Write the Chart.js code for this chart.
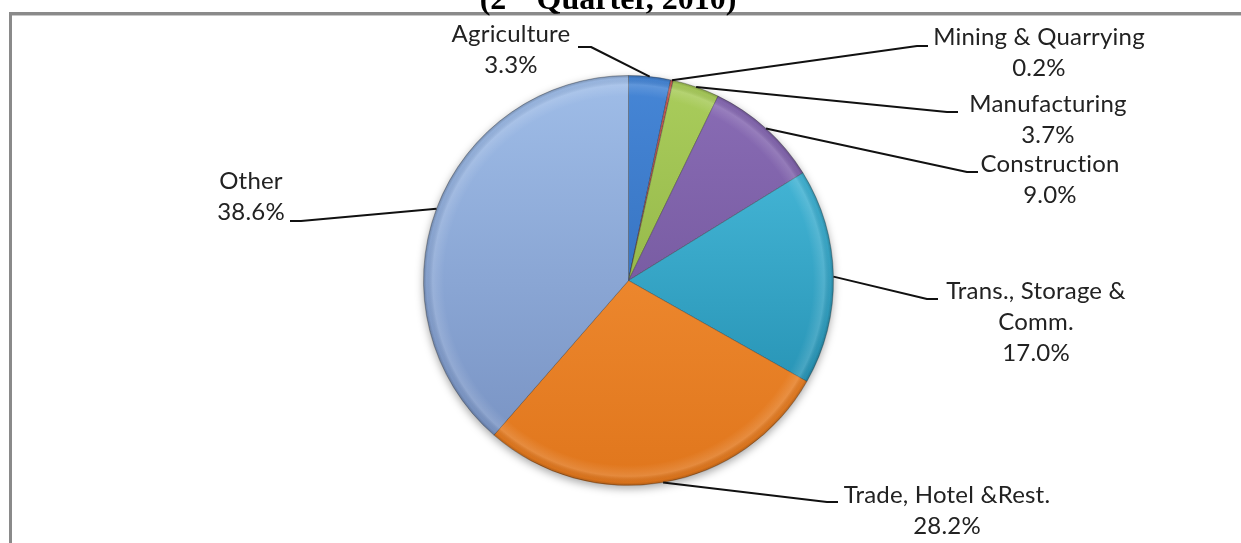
<!DOCTYPE html>
<html>
<head>
<meta charset="utf-8">
<title>GDP by sector, 2nd Quarter 2010</title>
<script src="https://cdn.jsdelivr.net/npm/chart.js@4.4.1/dist/chart.umd.min.js"></script>
<style>
  html, body { margin: 0; padding: 0; background: #fff; }
  #wrap { position: relative; width: 1241px; height: 543px; overflow: hidden; }
  canvas { display: block; }
</style>
</head>
<body>
<div id="wrap">
  <canvas id="sectorChart" width="1241" height="543"></canvas>
</div>
<script>
// sector shares, clockwise from 12 o'clock
const sectors = [
  "Agriculture",
  "Mining & Quarrying",
  "Manufacturing",
  "Construction",
  ["Trans., Storage &", "Comm."],
  "Trade, Hotel &Rest.",
  "Other"
];
const shares = [3.3, 0.2, 3.7, 9.0, 17.0, 28.2, 38.6];

// top / bottom shade of each slice
const topShades = ["#4686d6", "#c85a55", "#aacd5c", "#8a6db6", "#4fc2e2", "#f8973e", "#9fbde8"];
const bottomShades = ["#2a64b0", "#a8403c", "#84a63a", "#684c90", "#1c86a8", "#e0761c", "#758fc0"];

// where each data label sits: text centre x, first baseline y, leader elbow + end
const labelSpots = [
  { cx: 511,  y: 42,  elbow: [591, 47],  end: [578, 47] },
  { cx: 1039, y: 45,  elbow: [917, 46],  end: [928, 46] },
  { cx: 1048, y: 112, elbow: [947, 112], end: [958, 112] },
  { cx: 1050, y: 172, elbow: [967, 172], end: [978, 172] },
  { cx: 1036, y: 299, elbow: [927, 299], end: [938, 299] },
  { cx: 947,  y: 503, elbow: [827, 502], end: [838, 502] },
  { cx: 251,  y: 220, elbow: [301, 221], end: [290, 221], lift: true }
];

const LINE_H = 31;
const LABEL_FONT = "24px Lato";

const gradCache = {};
function sliceFill(context) {
  const chart = context.chart;
  const area = chart.chartArea;
  const i = context.dataIndex;
  if (!area) return topShades[i];
  const key = i + ":" + area.top + ":" + area.bottom;
  if (!gradCache[key]) {
    const g = chart.ctx.createLinearGradient(0, area.top, 0, area.bottom);
    g.addColorStop(0, topShades[i]);
    g.addColorStop(1, bottomShades[i]);
    gradCache[key] = g;
  }
  return gradCache[key];
}

// frame and (clipped) heading
const framePlugin = {
  id: "framePlugin",
  beforeDraw(chart) {
    const ctx = chart.ctx;
    ctx.save();
    ctx.fillStyle = "#fff";
    ctx.fillRect(0, 0, chart.width, chart.height);

    ctx.fillStyle = "#8a8a8a";
    ctx.fillRect(9, 12, chart.width - 9, 3);
    ctx.fillRect(9, 12, 3, chart.height - 12);
    ctx.fillStyle = "#c8c8c8";
    ctx.fillRect(12, 15, chart.width - 12, 1);

    ctx.fillStyle = "#000";
    ctx.textBaseline = "alphabetic";
    const big = "bold 32px 'Liberation Serif'";
    const small = "bold 20px 'Liberation Serif'";
    ctx.font = big;
    const a = "(2", b = " Quarter, 2010)";
    const wa = ctx.measureText(a).width, wb = ctx.measureText(b).width;
    ctx.font = small;
    const wn = ctx.measureText("nd").width;
    let x = 608 - (wa + wn + wb) / 2;
    ctx.font = big;
    ctx.fillText(a, x, 9);
    x += wa;
    ctx.font = small;
    ctx.fillText("nd", x, -4);
    x += wn;
    ctx.font = big;
    ctx.fillText(b, x, 9);
    ctx.restore();
  }
};

// soft shadow under the pie and a rim shading over it
const pieShade = {
  id: "pieShade",
  beforeDatasetsDraw(chart) {
    const arc = chart.getDatasetMeta(0).data[0];
    if (!arc) return;
    const ctx = chart.ctx;
    ctx.save();
    ctx.shadowColor = "rgba(0,0,0,0.35)";
    ctx.shadowBlur = 8;
    ctx.shadowOffsetY = 3;
    ctx.fillStyle = "#fff";
    ctx.beginPath();
    ctx.arc(arc.x, arc.y, arc.outerRadius, 0, Math.PI * 2);
    ctx.fill();
    ctx.restore();
  },
  afterDatasetsDraw(chart) {
    const arc = chart.getDatasetMeta(0).data[0];
    if (!arc) return;
    const ctx = chart.ctx;
    const r = arc.outerRadius;
    ctx.save();
    const g = ctx.createRadialGradient(arc.x, arc.y, r * 0.9, arc.x, arc.y, r);
    g.addColorStop(0, "rgba(255,255,255,0)");
    g.addColorStop(0.55, "rgba(255,255,255,0.14)");
    g.addColorStop(0.85, "rgba(0,0,0,0.04)");
    g.addColorStop(1, "rgba(0,0,0,0.22)");
    ctx.fillStyle = g;
    ctx.beginPath();
    ctx.arc(arc.x, arc.y, r, 0, Math.PI * 2);
    ctx.fill();
    ctx.restore();
  }
};

// category + percentage labels with leader lines
const leaderLabels = {
  id: "leaderLabels",
  afterDraw(chart) {
    const ctx = chart.ctx;
    const meta = chart.getDatasetMeta(0);
    const values = chart.data.datasets[0].data;
    ctx.save();
    ctx.strokeStyle = "#111";
    ctx.lineWidth = 2;
    ctx.lineJoin = "round";
    ctx.font = LABEL_FONT;
    ctx.letterSpacing = "0.2px"; // also stops the "ti" ligature
    ctx.fillStyle = "#222";
    ctx.textAlign = "center";
    ctx.textBaseline = "alphabetic";

    meta.data.forEach((arc, i) => {
      const spot = labelSpots[i];
      const mid = (arc.startAngle + arc.endAngle) / 2;
      const ax = arc.x + Math.cos(mid) * arc.outerRadius;
      const ay = arc.y + Math.sin(mid) * arc.outerRadius;

      ctx.beginPath();
      ctx.moveTo(ax, ay);
      ctx.lineTo(spot.elbow[0], spot.elbow[1]);
      ctx.lineTo(spot.end[0], spot.end[1]);
      ctx.stroke();

      const name = chart.data.labels[i];
      const lines = (Array.isArray(name) ? name.slice() : [name]);
      lines.push(values[i].toFixed(1) + "%");
      const first = spot.lift ? spot.y - LINE_H * (lines.length - 1) : spot.y;
      lines.forEach((t, k) => ctx.fillText(t, spot.cx, first + k * LINE_H));
    });
    ctx.restore();
  }
};

new Chart(document.getElementById("sectorChart"), {
  type: "pie",
  data: {
    labels: sectors,
    datasets: [{
      data: shares,
      backgroundColor: sliceFill,
      borderColor: "rgba(40,40,40,0.35)",
      borderWidth: 1
    }]
  },
  options: {
    responsive: false,
    animation: false,
    layout: { padding: { top: 75, bottom: 57, left: 423, right: 407 } },
    plugins: {
      legend: { display: false },
      tooltip: { enabled: false }
    }
  },
  plugins: [framePlugin, pieShade, leaderLabels]
});
</script>
</body>
</html>
